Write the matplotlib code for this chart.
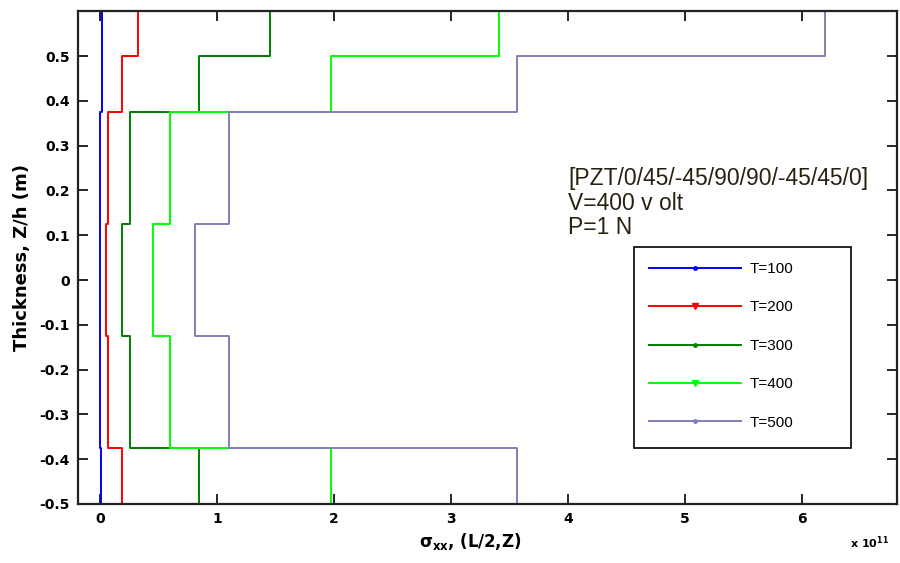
import numpy as np
import matplotlib
matplotlib.use("Agg")
import matplotlib.pyplot as plt
from matplotlib.lines import Line2D
from matplotlib.patches import Rectangle

# -----------------------------------
# Data: sigma_xx (x 1e11) per layer, layers bounded by z_edges
# -----------------------------------
z_edges = [-0.5, -0.375, -0.25, -0.125, 0.0, 0.125, 0.25, 0.375, 0.5, 0.6]

t100 = [0.01, 0.0, 0.0, 0.0, 0.0, 0.0, 0.0, 0.015, 0.015]
t200 = [0.19, 0.066, 0.066, 0.048, 0.048, 0.07, 0.07, 0.185, 0.327]
t300 = [0.84, 0.257, 0.257, 0.186, 0.186, 0.257, 0.257, 0.84, 1.45]
t400 = [1.97, 0.60, 0.60, 0.447, 0.447, 0.60, 0.60, 1.97, 3.41]
t500 = [3.56, 1.097, 1.097, 0.806, 0.806, 1.097, 1.097, 3.56, 6.20]

labels = ["T=100", "T=200", "T=300", "T=400", "T=500"]
colors = ["#0000ff", "#ff0000", "#008000", "#00ff00", "#7f7fb3"]
markers = [".", "v", ".", "v", "."]

xticks = [0, 1, 2, 3, 4, 5, 6]
yticks = [-0.5, -0.4, -0.3, -0.2, -0.1, 0.0, 0.1, 0.2, 0.3, 0.4, 0.5]
ytick_labels = ["-0.5", "-0.4", "-0.3", "-0.2", "-0.1", "0", "0.1", "0.2", "0.3", "0.4", "0.5"]

info_lines = ["[PZT/0/45/-45/90/90/-45/45/0]", "V=400 v olt", "P=1 N"]

# -----------------------------------
# Plot
# -----------------------------------
fig = plt.figure(figsize=(9, 5.63), dpi=100)
ax = fig.add_axes([0.0867, 0.1048, 0.9097, 0.8753])

edges = np.array(z_edges)
zs = np.column_stack([edges[:-1], edges[1:]]).ravel()
for vals, c in zip([t100, t200, t300, t400, t500], colors):
    xs = np.repeat(vals, 2)
    ax.plot(xs, zs, color=c, lw=1.4)

ax.set_xlim(-0.19, 6.81)
ax.set_ylim(-0.5, 0.6)
ax.set_xticks(xticks)
ax.set_xticklabels([str(v) for v in xticks])
ax.set_yticks(yticks)
ax.set_yticklabels(ytick_labels)
ax.tick_params(direction="in", top=True, right=True, length=7, width=1.2,
               labelsize=10, pad=6)
for lab in ax.get_xticklabels() + ax.get_yticklabels():
    lab.set_fontweight("bold")
for s in ax.spines.values():
    s.set_linewidth(1.6)
    s.set_color("#222222")

ax.set_ylabel("Thickness, Z/h (m)", fontsize=13, fontweight="bold", labelpad=6)
plt.rcParams["mathtext.default"] = "bf"
fig.text(0.522, 0.028, r"$\sigma_{xx}$, (L/2,Z)", fontsize=12, fontweight="bold",
         ha="center", va="baseline")
fig.text(0.945, 0.028, r"x 10$^{11}$", fontsize=8, fontweight="bold",
         ha="left", va="baseline")

# annotation block
for i, line in enumerate(info_lines):
    ax.text(4.0, 0.212 - i * 0.055, line, fontsize=16.5, family="Liberation Sans",
            color="#2a2010", ha="left", va="baseline")

# legend with separate frame
handles = [Line2D([0], [0], color=c, lw=1.4, marker=m, markersize=5)
           for c, m in zip(colors, markers)]
ax.add_patch(Rectangle((0.679, 0.113), 0.265, 0.409, transform=ax.transAxes,
                       fill=False, ec="black", lw=1.2, zorder=5))
ax.legend(handles, labels, loc="upper left", bbox_to_anchor=(0.679, 0.522),
          frameon=False, borderaxespad=0, borderpad=1.0, handlelength=6,
          handletextpad=0.6, labelspacing=1.6,
          prop={"family": "Liberation Sans", "size": 11})

fig.savefig("out.png", dpi=100)
